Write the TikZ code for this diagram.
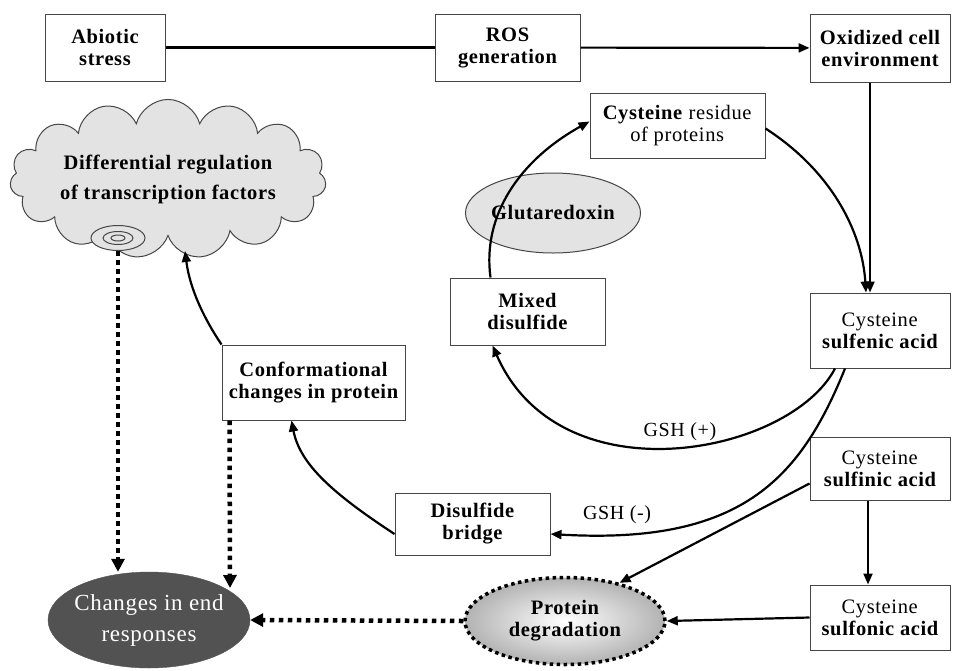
\documentclass[tikz,border=0pt]{standalone}
\usepackage{fontspec}
\setmainfont{Liberation Serif}[LetterSpace=3]
\usetikzlibrary{shapes.geometric, shapes.symbols, arrows.meta, positioning, calc}
\colorlet{boxline}{gray!55!black}
\colorlet{cloudfill}{gray!22}
\colorlet{endfill}{black!68}

\tikzset{
  box/.style={draw=boxline, line width=1pt, fill=white, align=center,
              font=\fontsize{20.5}{22}\selectfont\bfseries, inner sep=2pt},
  oval/.style={ellipse, draw=boxline, line width=1pt, align=center,
               font=\fontsize{20.5}{22}\selectfont\bfseries, inner sep=0pt},
  arr/.style={-{Triangle[length=11pt,width=9pt]}, line width=2.2pt},
  dotarr/.style={-{Triangle[length=13pt,width=13pt]}, line width=4.5pt,
                 dash pattern=on 4.5pt off 4.5pt},
  lbl/.style={font=\fontsize{20}{22}\selectfont},
}

\begin{document}
\begin{tikzpicture}[x=1pt, y=-1pt]
  \useasboundingbox (0,0) rectangle (955,670);

  % top row
  \node[box, minimum width=120, minimum height=67] (abio) at (105,47.5) {Abiotic\\stress};
  \node[box, minimum width=145, minimum height=67] (ros) at (507.5,47.5) {ROS\\generation};
  \node[box, minimum width=140, minimum height=68] (oxid) at (880,48) {Oxidized cell\\environment};

  % thiol cycle
  \node[box, minimum width=175, minimum height=65] (resid) at (677.5,125.5)
    {Cysteine \textmd{residue}\\\textmd{of proteins}};
  \node[oval, fill=cloudfill, minimum width=175, minimum height=80] (glut) at (553,213) {Glutaredoxin};
  \node[box, minimum width=155, minimum height=67] (mixed) at (527.5,311.5) {Mixed\\disulfide};
  \node[box, minimum width=140, minimum height=75] (sulfen) at (880,330.5)
    {\textmd{Cysteine}\\sulfenic acid};
  \node[box, minimum width=140, minimum height=63] (sulfin) at (880,468.5)
    {\textmd{Cysteine}\\sulfinic acid};
  \node[box, minimum width=140, minimum height=65] (sulfon) at (880,617.5)
    {\textmd{Cysteine}\\sulfonic acid};
  \node[box, minimum width=155, minimum height=62] (bridge) at (472.5,524) {Disulfide\\bridge};
  \node[box, minimum width=183, minimum height=75] (conf) at (313.5,382.5)
    {Conformational\\changes in protein};

  % left side
  \node[cloud, cloud puffs=15, aspect=2.7, draw=boxline, line width=1pt, fill=cloudfill,
        minimum width=312, minimum height=106, inner sep=0pt, align=center,
        font=\fontsize{20.5}{30}\selectfont\bfseries] (cloud) at (168,179)
    {Differential regulation\\of transcription factors};
  \node[oval, fill=cloudfill, minimum width=54, minimum height=25] (spiral) at (118,238) {};
  \draw[boxline, line width=1pt] (spiral.center) ellipse[x radius=15, y radius=6.5];
  \draw[boxline, line width=1pt] (spiral.center) ellipse[x radius=7, y radius=3];

  \node[ellipse, fill=endfill, draw=endfill, minimum width=202, minimum height=96, align=center,
        inner xsep=-14pt, inner ysep=-6pt, text=white, font=\fontsize{23}{31}\selectfont] (endresp) at (149,620)
    {Changes in end\\responses};
  \node[ellipse, inner color=white, outer color=gray!60, draw=black, line width=3.5pt,
        dash pattern=on 3.5pt off 3.5pt, minimum width=200, minimum height=87, align=center,
        font=\fontsize{20.5}{22}\selectfont\bfseries] (degr) at (565,621)
    {Protein\\degradation};

  \coordinate (confend) at (230,588);

  % connectors
  \draw[line width=2.8pt] (abio) -- (ros);
  \draw[arr] (ros) -- (oxid);
  \draw[arr] ([xshift=-10pt]oxid.south) -- ([xshift=-10pt]sulfen.north);
  \draw[arr] ([yshift=-3pt]resid.east) .. controls (830,170) and (862,230) .. ([xshift=-14pt]sulfen.north);
  \draw[arr] ([xshift=-37pt]mixed.north) .. controls (482,215) and (520,160) .. ([yshift=4pt]resid.west);
  \draw[arr] ([xshift=-45pt]sulfen.south) .. controls (790,455) and (560,500) .. ([xshift=-35pt]mixed.south);
  \node[lbl] (gshp) at (680,432) {GSH (+)};
  \draw[arr] ([xshift=-35pt]sulfen.south) .. controls (800,480) and (740,545) .. ([yshift=-10pt]bridge.east);
  \node[lbl] (gshm) at (617,515) {GSH (-)};
  \draw[arr] ([yshift=-10pt]bridge.west) .. controls (335,495) and (300,465) .. ([xshift=-22pt]conf.south);
  \draw[arr] (conf.north west) .. controls (205,320) and (190,290) .. (185,251);
  \draw[arr] ([yshift=-15pt]sulfin.west) -- (degr.35);
  \draw[arr] ([xshift=-12pt]sulfin.south) -- ([xshift=-12pt]sulfon.north);
  \draw[arr] (sulfon.west) -- (degr.east);
  \draw[dotarr] (degr.west) -- (endresp.east);
  \draw[dotarr] (spiral.south) -- (spiral.south |- endresp.north);
  \draw[dotarr] ([xshift=8pt]conf.south west) -- (confend);
\end{tikzpicture}
\end{document}
